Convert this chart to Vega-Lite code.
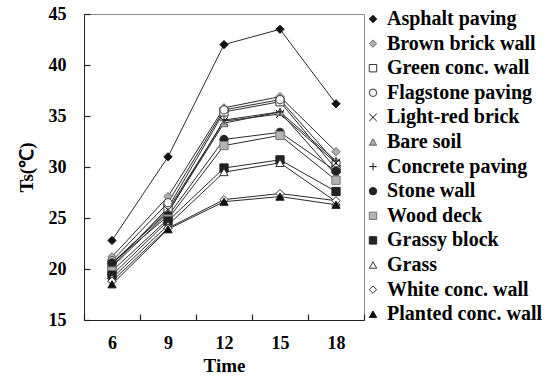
{
  "$schema": "https://vega.github.io/schema/vega-lite/v6.json",
  "width": 280,
  "height": 306,
  "padding": {"left": 17, "top": 5, "right": 0, "bottom": 0},
  "background": "white",
  "config": {
    "view": {"stroke": "#8a8a8a", "strokeWidth": 1},
    "font": "Liberation Serif",
    "axis": {
      "labelFont": "Liberation Serif",
      "labelFontWeight": "bold",
      "labelFontSize": 18,
      "labelColor": "black",
      "titleFont": "Liberation Serif",
      "titleFontWeight": "bold",
      "titleFontSize": 19,
      "titleColor": "black",
      "domainColor": "#222",
      "tickColor": "#222",
      "tickWidth": 1.2,
      "grid": false
    },
    "legend": {
      "labelFont": "Liberation Serif",
      "labelFontWeight": "bold",
      "labelFontSize": 20,
      "labelColor": "black",
      "padding": 0
    }
  },
  "data": {
    "values": [
      {"series": "Asphalt paving", "time": 6, "ts": 22.8},
      {"series": "Asphalt paving", "time": 9, "ts": 31.0},
      {"series": "Asphalt paving", "time": 12, "ts": 42.0},
      {"series": "Asphalt paving", "time": 15, "ts": 43.5},
      {"series": "Asphalt paving", "time": 18, "ts": 36.2},
      {"series": "Brown brick wall", "time": 6, "ts": 21.2},
      {"series": "Brown brick wall", "time": 9, "ts": 27.1},
      {"series": "Brown brick wall", "time": 12, "ts": 35.8},
      {"series": "Brown brick wall", "time": 15, "ts": 36.9},
      {"series": "Brown brick wall", "time": 18, "ts": 31.5},
      {"series": "Green conc. wall", "time": 6, "ts": 20.3},
      {"series": "Green conc. wall", "time": 9, "ts": 26.0},
      {"series": "Green conc. wall", "time": 12, "ts": 35.4},
      {"series": "Green conc. wall", "time": 15, "ts": 36.4},
      {"series": "Green conc. wall", "time": 18, "ts": 29.8},
      {"series": "Flagstone paving", "time": 6, "ts": 20.8},
      {"series": "Flagstone paving", "time": 9, "ts": 26.5},
      {"series": "Flagstone paving", "time": 12, "ts": 35.6},
      {"series": "Flagstone paving", "time": 15, "ts": 36.6},
      {"series": "Flagstone paving", "time": 18, "ts": 30.4},
      {"series": "Light-red brick", "time": 6, "ts": 20.5},
      {"series": "Light-red brick", "time": 9, "ts": 25.8},
      {"series": "Light-red brick", "time": 12, "ts": 34.5},
      {"series": "Light-red brick", "time": 15, "ts": 35.2},
      {"series": "Light-red brick", "time": 18, "ts": 30.4},
      {"series": "Bare soil", "time": 6, "ts": 20.6},
      {"series": "Bare soil", "time": 9, "ts": 25.6},
      {"series": "Bare soil", "time": 12, "ts": 34.3},
      {"series": "Bare soil", "time": 15, "ts": 35.4},
      {"series": "Bare soil", "time": 18, "ts": 29.2},
      {"series": "Concrete paving", "time": 6, "ts": 20.2},
      {"series": "Concrete paving", "time": 9, "ts": 25.5},
      {"series": "Concrete paving", "time": 12, "ts": 34.6},
      {"series": "Concrete paving", "time": 15, "ts": 35.4},
      {"series": "Concrete paving", "time": 18, "ts": 30.6},
      {"series": "Stone wall", "time": 6, "ts": 20.6},
      {"series": "Stone wall", "time": 9, "ts": 25.2},
      {"series": "Stone wall", "time": 12, "ts": 32.7},
      {"series": "Stone wall", "time": 15, "ts": 33.4},
      {"series": "Stone wall", "time": 18, "ts": 29.6},
      {"series": "Wood deck", "time": 6, "ts": 19.8},
      {"series": "Wood deck", "time": 9, "ts": 24.9},
      {"series": "Wood deck", "time": 12, "ts": 32.1},
      {"series": "Wood deck", "time": 15, "ts": 33.1},
      {"series": "Wood deck", "time": 18, "ts": 28.7},
      {"series": "Grassy block", "time": 6, "ts": 19.4},
      {"series": "Grassy block", "time": 9, "ts": 24.7},
      {"series": "Grassy block", "time": 12, "ts": 29.9},
      {"series": "Grassy block", "time": 15, "ts": 30.7},
      {"series": "Grassy block", "time": 18, "ts": 27.6},
      {"series": "Grass", "time": 6, "ts": 19.1},
      {"series": "Grass", "time": 9, "ts": 24.3},
      {"series": "Grass", "time": 12, "ts": 29.5},
      {"series": "Grass", "time": 15, "ts": 30.4},
      {"series": "Grass", "time": 18, "ts": 26.6},
      {"series": "White conc. wall", "time": 6, "ts": 18.8},
      {"series": "White conc. wall", "time": 9, "ts": 24.0},
      {"series": "White conc. wall", "time": 12, "ts": 26.8},
      {"series": "White conc. wall", "time": 15, "ts": 27.4},
      {"series": "White conc. wall", "time": 18, "ts": 26.7},
      {"series": "Planted conc. wall", "time": 6, "ts": 18.5},
      {"series": "Planted conc. wall", "time": 9, "ts": 23.9},
      {"series": "Planted conc. wall", "time": 12, "ts": 26.6},
      {"series": "Planted conc. wall", "time": 15, "ts": 27.1},
      {"series": "Planted conc. wall", "time": 18, "ts": 26.3}
    ]
  },
  "encoding": {
    "x": {
      "field": "time",
      "type": "ordinal",
      "bandPosition": 0.5,
      "sort": [6, 9, 12, 15, 18],
      "scale": {"type": "band", "paddingInner": 0, "paddingOuter": 0},
      "axis": {"title": "Time", "labelAngle": 0, "tickBand": "extent", "tickSize": -6, "labelPadding": 20, "titlePadding": 4}
    },
    "y": {
      "field": "ts",
      "type": "quantitative",
      "scale": {"domain": [15, 45], "nice": false, "zero": false},
      "axis": {"title": "Ts(℃)", "values": [15, 20, 25, 30, 35, 40, 45], "tickSize": -6, "labelPadding": 24, "titlePadding": 12}
    }
  },
  "layer": [
    {
      "mark": {"type": "line", "color": "#2a2a2a", "strokeWidth": 1},
      "encoding": {"detail": {"field": "series"}}
    },
    {
      "mark": {"type": "point", "filled": false, "size": 68, "opacity": 1, "strokeWidth": 1},
      "encoding": {
        "shape": {
          "field": "series",
          "type": "nominal",
          "scale": {
            "domain": ["Asphalt paving", "Brown brick wall", "Green conc. wall", "Flagstone paving", "Light-red brick", "Bare soil", "Concrete paving", "Stone wall", "Wood deck", "Grassy block", "Grass", "White conc. wall", "Planted conc. wall"],
            "range": ["diamond", "diamond", "square", "circle", "M-1,-1L1,1M-1,1L1,-1", "triangle-up", "M-1,0L1,0M0,-1L0,1", "circle", "square", "square", "triangle-up", "diamond", "triangle-up"]
          },
          "legend": {"title": null, "orient": "none", "legendX": 279, "legendY": -5, "rowPadding": 4.6, "symbolSize": 55, "symbolStrokeWidth": 1, "labelOffset": 4}
        },
        "fill": {
          "field": "series",
          "type": "nominal",
          "scale": {
            "domain": ["Asphalt paving", "Brown brick wall", "Green conc. wall", "Flagstone paving", "Light-red brick", "Bare soil", "Concrete paving", "Stone wall", "Wood deck", "Grassy block", "Grass", "White conc. wall", "Planted conc. wall"],
            "range": ["#111111", "#b0b0b0", "#ffffff", "#ffffff", "transparent", "#a8a8a8", "transparent", "#222222", "#b4b4b4", "#222222", "#ffffff", "#ffffff", "#111111"]
          },
          "legend": {"title": null}
        },
        "stroke": {
          "field": "series",
          "type": "nominal",
          "scale": {
            "domain": ["Asphalt paving", "Brown brick wall", "Green conc. wall", "Flagstone paving", "Light-red brick", "Bare soil", "Concrete paving", "Stone wall", "Wood deck", "Grassy block", "Grass", "White conc. wall", "Planted conc. wall"],
            "range": ["#111111", "#666666", "#333333", "#333333", "#111111", "#666666", "#111111", "#222222", "#777777", "#222222", "#333333", "#333333", "#111111"]
          },
          "legend": {"title": null}
        }
      }
    }
  ]
}
